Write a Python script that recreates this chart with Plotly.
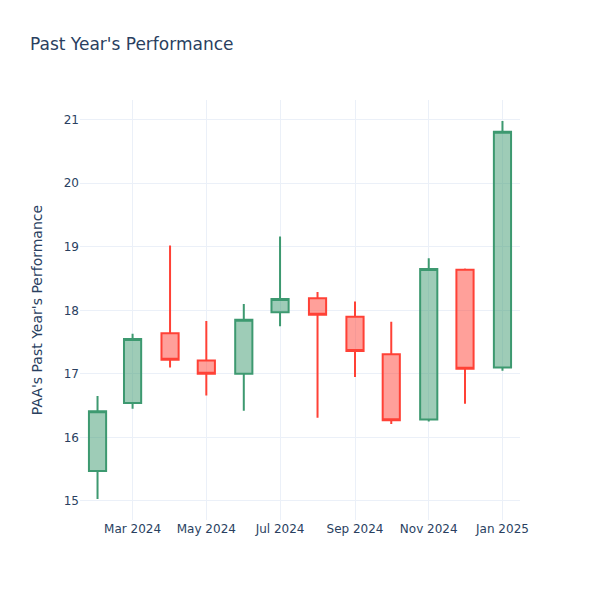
import plotly.graph_objects as go

dates = ["2024-02-01", "2024-03-01", "2024-04-01", "2024-05-01", "2024-06-01", "2024-07-01",
         "2024-08-01", "2024-09-01", "2024-10-01", "2024-11-01", "2024-12-01", "2025-01-01"]
open_ = [15.47, 16.54, 17.64, 17.21, 17.00, 17.97, 18.19, 17.90, 17.31, 16.28, 18.64, 17.10]
high = [16.65, 17.63, 19.02, 17.83, 18.10, 19.16, 18.29, 18.14, 17.82, 18.82, 18.66, 20.98]
low = [15.03, 16.45, 17.10, 16.66, 16.42, 17.75, 16.31, 16.95, 16.21, 16.25, 16.53, 17.05]
close = [16.41, 17.55, 17.22, 17.00, 17.85, 18.18, 17.93, 17.36, 16.27, 18.65, 17.08, 20.81]

W, H = 592, 592
fig = go.Figure(go.Candlestick(x=dates, open=open_, high=high, low=low, close=close))
fig.update_layout(
    template="plotly_white",
    width=W, height=H,
    font=dict(family="DejaVu Sans"),
    margin=dict(l=72, r=80, t=92, b=80),
    title=dict(text="Past Year's Performance", x=22 / W, xref="container", xanchor="left",
               y=1 - 36 / H, yref="container", yanchor="middle"),
    yaxis=dict(title=dict(text="PAA's Past Year's Performance", standoff=17)),
    xaxis_rangeslider_visible=False,
)
fig.write_html("out.html")
